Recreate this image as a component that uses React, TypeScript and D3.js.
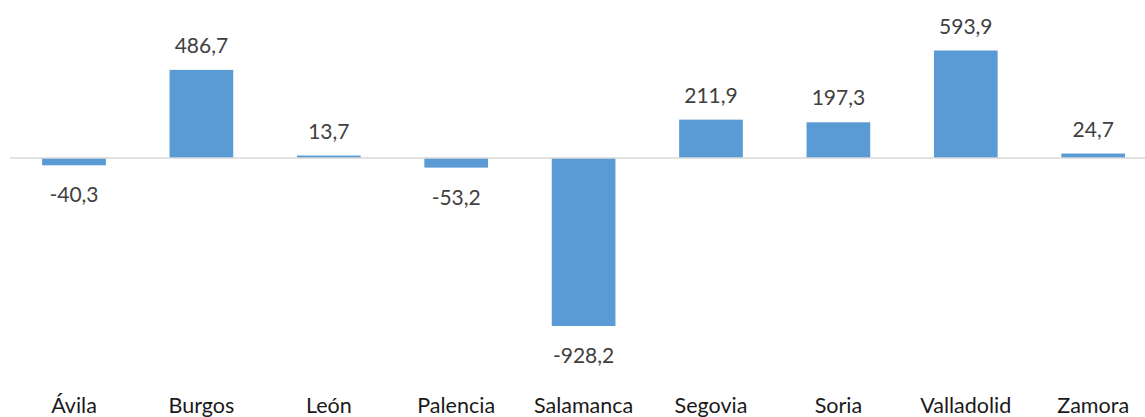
import React from "react";
import * as d3 from "d3";

const categories = ["Ávila", "Burgos", "León", "Palencia", "Salamanca", "Segovia", "Soria", "Valladolid", "Zamora"];
const values = [-40.3, 486.7, 13.7, -53.2, -928.2, 211.9, 197.3, 593.9, 24.7];

const W = 1145;
const H = 417;

export default function App() {
  const x = d3.scaleBand<string>().domain(categories).range([10.3, 1156.9]).paddingInner(0.5).paddingOuter(0.25);
  const y = d3.scaleLinear().domain([-1000, 700]).range([339, 31.3]);
  const fmt = (v: number) => v.toFixed(1).replace(".", ",");
  const font = "Lato, 'Noto Sans', sans-serif";
  return (
    <div style={{ position: "absolute", left: 0, top: 0 }}>
      <svg width={W} height={H} style={{ display: "block", background: "#fff" }}>
        {values.map((v, i) => {
          const c = categories[i];
          const bx = x(c)!;
          const y0 = y(0);
          const yv = y(v);
          return (
            <rect key={c} x={bx} y={Math.min(y0, yv)} width={x.bandwidth()} height={Math.abs(yv - y0)} fill="#5b9bd5" />
          );
        })}
        <line x1={10} x2={W} y1={y(0)} y2={y(0)} stroke="#d9d9d9" strokeWidth={1.5} />
        {values.map((v, i) => {
          const c = categories[i];
          const cx = x(c)! + x.bandwidth() / 2;
          const ty = v >= 0 ? y(v) - 17 : y(v) + 37;
          return (
            <text key={c} x={cx} y={ty} textAnchor="middle" fontFamily={font} fontSize={21} fill="#404040">
              {fmt(v)}
            </text>
          );
        })}
        {categories.map((c) => (
          <text key={c} x={x(c)! + x.bandwidth() / 2} y={412.5} textAnchor="middle" fontFamily={font} fontSize={21.5} fill="#1a1a1a">
            {c}
          </text>
        ))}
      </svg>
    </div>
  );
}
